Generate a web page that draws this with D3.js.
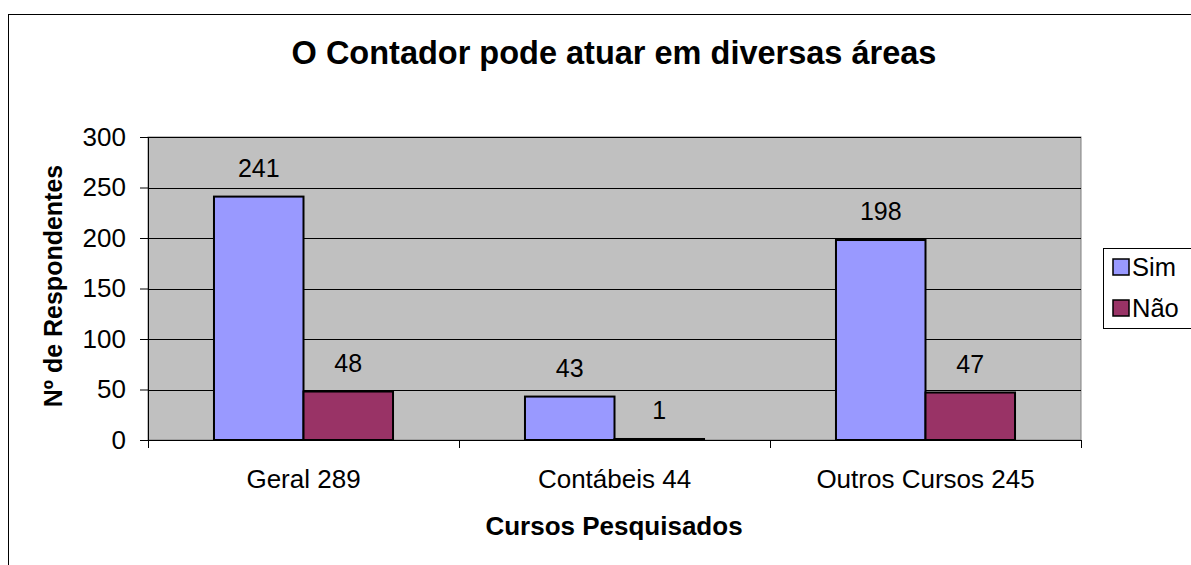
<!DOCTYPE html>
<html>
<head>
<meta charset="utf-8">
<script src="https://cdn.jsdelivr.net/npm/d3@7"></script>
<style>
  body { margin: 0; background: #fff; }
  svg { display: block; font-family: "Liberation Sans", Arial, sans-serif; }
</style>
</head>
<body>
<div id="chart"></div>
<script>
const categories = ['Geral 289', 'Contábeis 44', 'Outros Cursos 245'];
const seriesNames = ['Sim', 'Não'];
const simValues = [241, 43, 198];
const naoValues = [48, 1, 47];
const yTicks = [0, 50, 100, 150, 200, 250, 300];
const colors = ['#9999FF', '#993366'];

const width = 1191;
const height = 565;
const plot = { left: 148, right: 1081, top: 137, bottom: 440 };
const fontSize = 26;

const svg = d3.select('#chart')
  .append('svg')
  .attr('width', width)
  .attr('height', height);

// chart area border
svg.append('rect')
  .attr('x', 8.5).attr('y', 14.5)
  .attr('width', width).attr('height', height)
  .attr('fill', 'none').attr('stroke', '#000').attr('stroke-width', 1);

const x = d3.scaleBand()
  .domain(categories)
  .range([plot.left, plot.right]);

const xInner = d3.scaleBand()
  .domain(seriesNames)
  .range([0, x.bandwidth()])
  .paddingOuter(0.737);

const y = d3.scaleLinear()
  .domain([0, 300])
  .range([plot.bottom, plot.top]);

// plot area
svg.append('rect')
  .attr('x', plot.left).attr('y', plot.top)
  .attr('width', plot.right - plot.left).attr('height', plot.bottom - plot.top)
  .attr('fill', '#C0C0C0').attr('stroke', '#808080').attr('stroke-width', 1);

// gridlines
svg.append('g')
  .selectAll('line')
  .data(yTicks.filter((d) => d > 0))
  .join('line')
  .attr('x1', plot.left).attr('x2', plot.right)
  .attr('y1', (d) => Math.round(y(d)) + 0.5)
  .attr('y2', (d) => Math.round(y(d)) + 0.5)
  .attr('stroke', '#000').attr('stroke-width', 1);

// y axis
const yAxis = svg.append('g')
  .attr('transform', `translate(${plot.left},0)`)
  .call(d3.axisLeft(y).tickValues(yTicks).tickSize(8).tickPadding(14));
yAxis.select('.domain').remove();
yAxis.selectAll('line').attr('stroke', '#000');
yAxis.selectAll('text')
  .attr('font-size', fontSize).attr('fill', '#000')
  .attr('font-family', '"Liberation Sans", Arial, sans-serif');
svg.append('line')
  .attr('x1', plot.left + 0.5).attr('x2', plot.left + 0.5)
  .attr('y1', plot.top).attr('y2', plot.bottom + 8)
  .attr('stroke', '#000');

// x axis
const xAxis = svg.append('g')
  .attr('transform', `translate(0,${plot.bottom})`)
  .call(d3.axisBottom(x).tickSize(0).tickPadding(0));
xAxis.select('.domain').remove();
xAxis.selectAll('text')
  .attr('dy', null)
  .attr('y', 48)
  .attr('font-size', fontSize).attr('fill', '#000')
  .attr('font-family', '"Liberation Sans", Arial, sans-serif');
svg.append('line')
  .attr('x1', plot.left).attr('x2', plot.right)
  .attr('y1', plot.bottom + 0.5).attr('y2', plot.bottom + 0.5)
  .attr('stroke', '#000');
svg.append('g')
  .selectAll('line')
  .data(categories.slice(1).concat(['__end']))
  .join('line')
  .attr('x1', (d) => (d === '__end' ? plot.right : x(d)) + 0.5)
  .attr('x2', (d) => (d === '__end' ? plot.right : x(d)) + 0.5)
  .attr('y1', plot.bottom).attr('y2', plot.bottom + 8)
  .attr('stroke', '#000');

// bars
const rows = categories.map((c, i) => ({ cat: c, values: [simValues[i], naoValues[i]] }));
const groups = svg.append('g')
  .selectAll('g')
  .data(rows)
  .join('g')
  .attr('transform', (d) => `translate(${x(d.cat)},0)`);

groups.selectAll('rect')
  .data((d) => d.values.map((v, i) => ({ name: seriesNames[i], value: v })))
  .join('rect')
  .attr('x', (d) => xInner(d.name))
  .attr('y', (d) => y(d.value))
  .attr('width', xInner.bandwidth())
  .attr('height', (d) => y(0) - y(d.value))
  .attr('fill', (d) => colors[seriesNames.indexOf(d.name)])
  .attr('stroke', '#000').attr('stroke-width', 2);

groups.selectAll('text')
  .data((d) => d.values.map((v, i) => ({ name: seriesNames[i], value: v })))
  .join('text')
  .attr('x', (d) => xInner(d.name) + xInner.bandwidth() / 2)
  .attr('y', (d) => y(d.value) - 20)
  .attr('text-anchor', 'middle')
  .attr('font-size', 25)
  .text((d) => d.value);

// title
svg.append('text')
  .attr('x', 614).attr('y', 64)
  .attr('text-anchor', 'middle')
  .attr('font-size', 32.5).attr('font-weight', 'bold')
  .text('O Contador pode atuar em diversas áreas');

// axis titles
svg.append('text')
  .attr('x', 614).attr('y', 535)
  .attr('text-anchor', 'middle')
  .attr('font-size', 26).attr('font-weight', 'bold')
  .text('Cursos Pesquisados');

svg.append('text')
  .attr('transform', 'translate(62,286) rotate(-90)')
  .attr('text-anchor', 'middle')
  .attr('font-size', 25).attr('font-weight', 'bold')
  .text('Nº de Respondentes');

// legend
const legend = svg.append('g').attr('transform', 'translate(1103,248)');
legend.append('rect')
  .attr('x', 0.5).attr('y', 0.5)
  .attr('width', 100).attr('height', 80)
  .attr('fill', '#fff').attr('stroke', '#000');
const items = legend.selectAll('g.item')
  .data(seriesNames)
  .join('g')
  .attr('class', 'item')
  .attr('transform', (d, i) => `translate(0,${11 + i * 41})`);
items.append('rect')
  .attr('x', 10).attr('y', 0)
  .attr('width', 16).attr('height', 16)
  .attr('fill', (d, i) => colors[i])
  .attr('stroke', '#000').attr('stroke-width', 1.5);
items.append('text')
  .attr('x', 29).attr('y', 17)
  .attr('font-size', 25.5)
  .text((d) => d);
</script>
</body>
</html>
